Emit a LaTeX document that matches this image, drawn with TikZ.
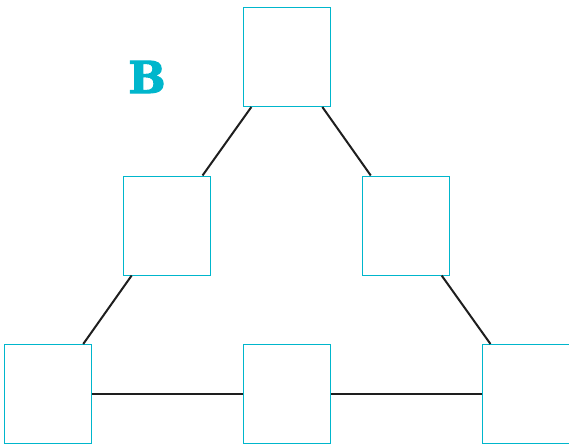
\documentclass[tikz,border=0pt]{standalone}
\usepackage{fontspec}
\usepackage{xcolor}
\usepackage{tikz}
\newfontfamily\slabfont[BoldFeatures={FakeBold=2.5}]{DejaVu Serif}
\definecolor{boxcyan}{RGB}{0,182,204}
\definecolor{linkgray}{RGB}{30,30,30}

\begin{document}
\begin{tikzpicture}[x=1pt,y=-1pt,
  cell/.style={draw=boxcyan,line width=1pt,fill=white,minimum width=87pt,minimum height=99pt,inner sep=0pt},
  link/.style={draw=linkgray,line width=2pt}]
\useasboundingbox (0,0) rectangle (569,447);
\node[cell] (top) at (287,57) {};
\node[cell] (midl) at (167,225.5) {};
\node[cell] (midr) at (406,225.5) {};
\node[cell] (botl) at (48,394) {};
\node[cell] (botm) at (287,394) {};
\node[cell] (botr) at (526,394) {};
\draw[link] (top) -- (midl);
\draw[link] (top) -- (midr);
\draw[link] (midl) -- (botl);
\draw[link] (midr) -- (botr);
\draw[link] (botl) -- (botm);
\draw[link] (botm) -- (botr);
\node[boxcyan,font=\slabfont\bfseries\fontsize{44}{44}\selectfont] (label) at (147,77) {B};
\end{tikzpicture}
\end{document}
